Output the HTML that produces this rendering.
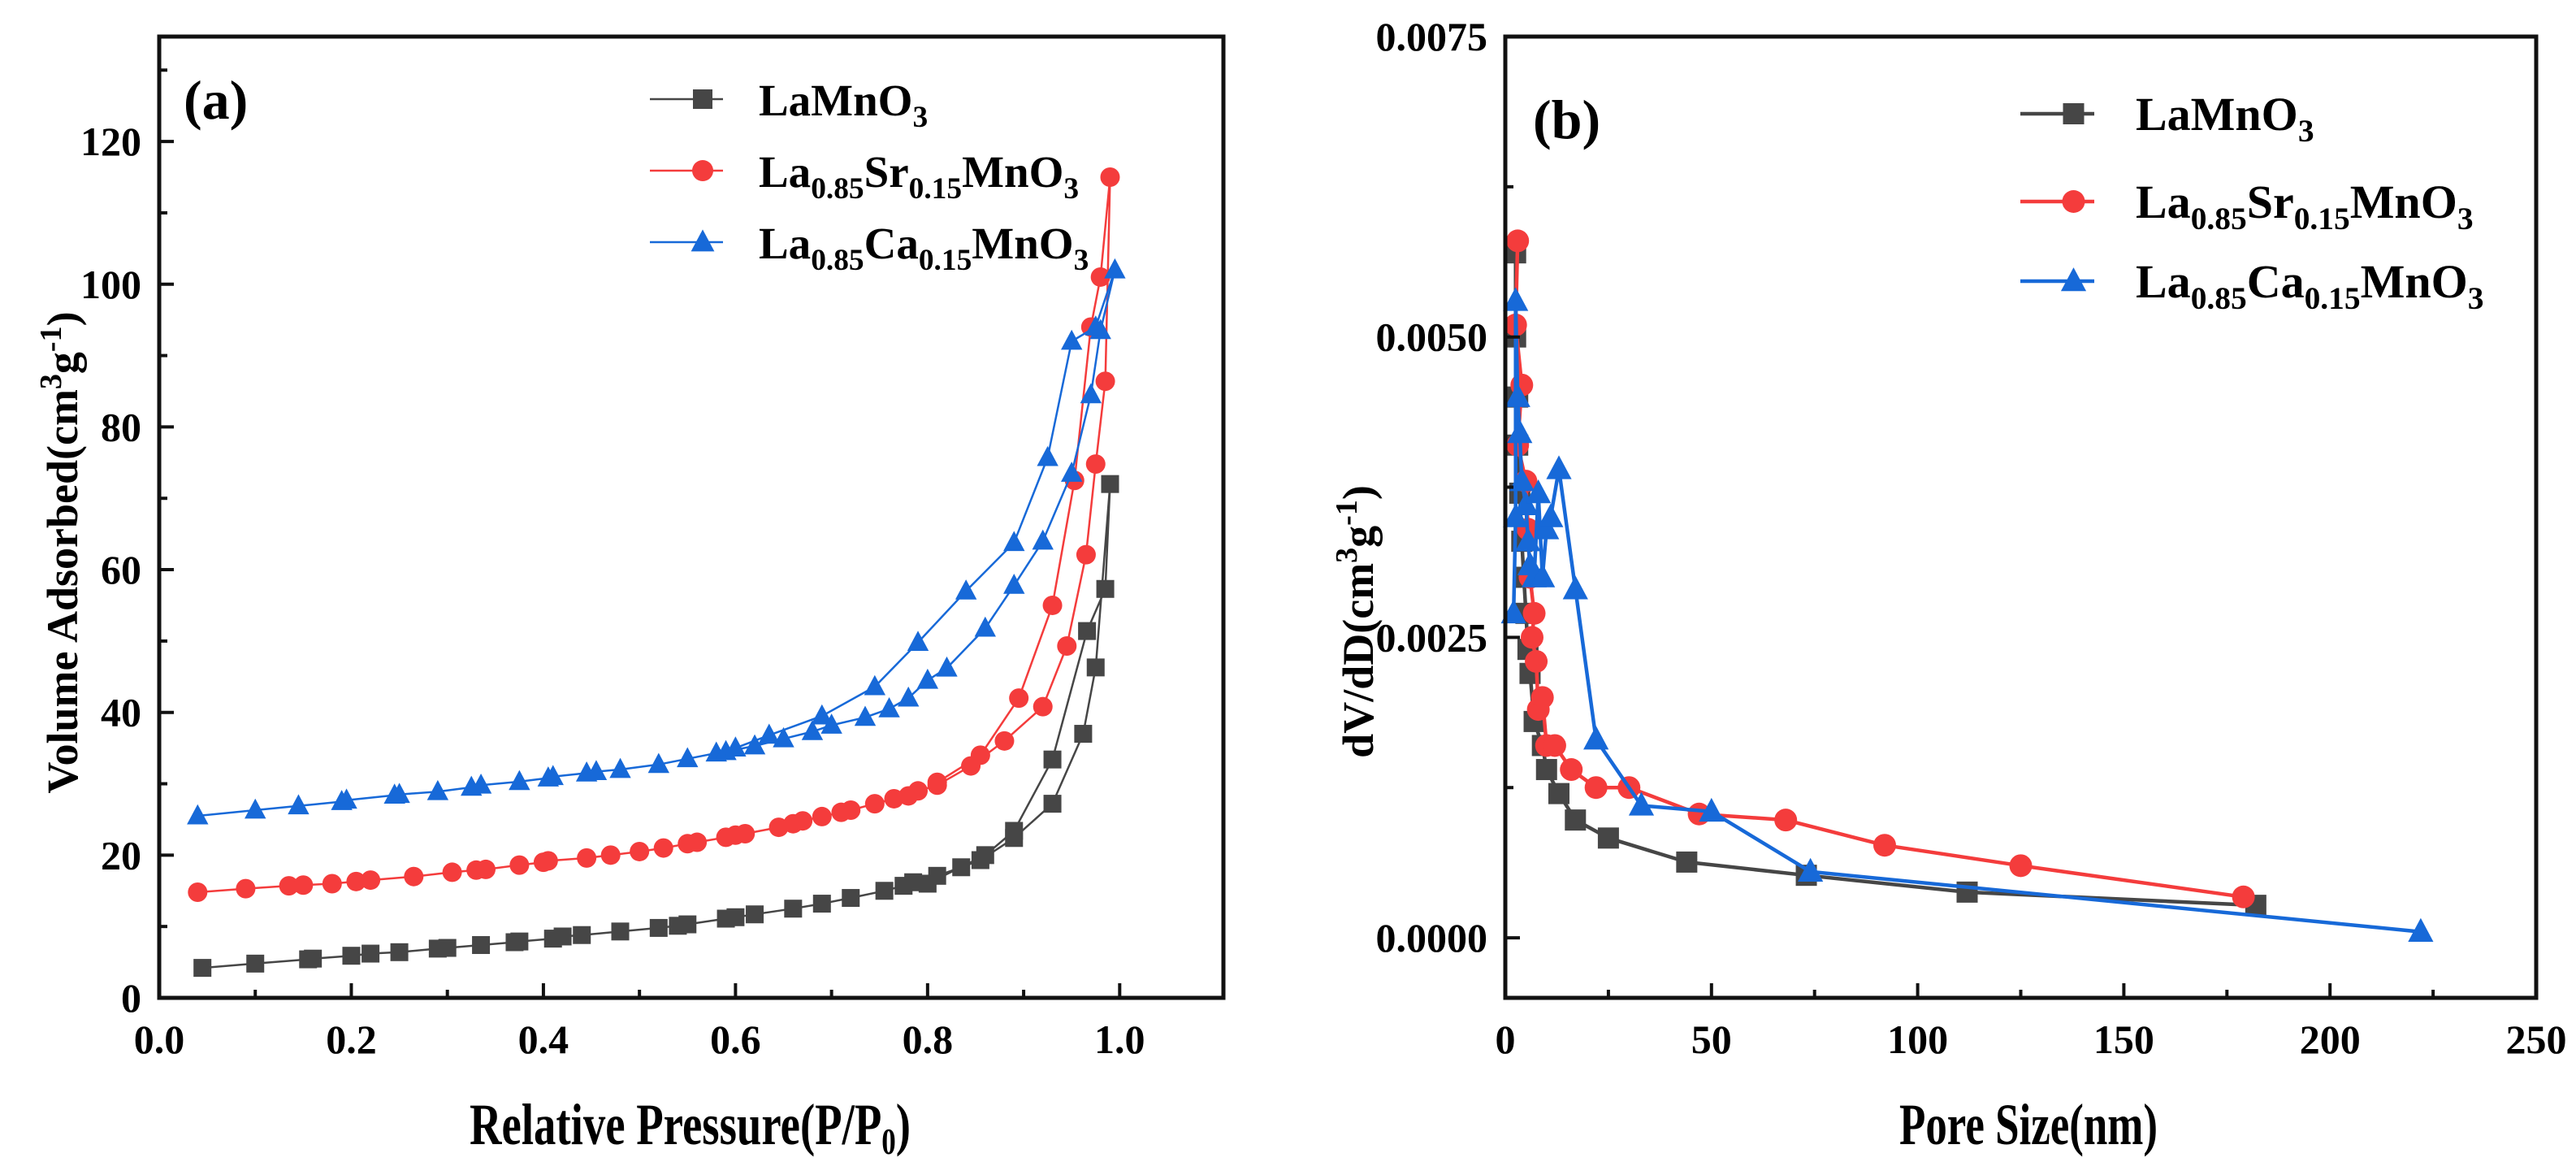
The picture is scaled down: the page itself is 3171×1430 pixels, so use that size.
<!DOCTYPE html>
<html><head><meta charset="utf-8"><style>
html,body{margin:0;padding:0;background:#fff;}
svg{display:block;font-family:"Liberation Serif",serif;font-weight:bold;}
</style></head><body>
<svg id="fig" width="3171" height="1430" viewBox="0 0 3171 1430" xmlns="http://www.w3.org/2000/svg"></svg>
<script>
// ---- Panel (a) data ----
const aLaX = [0.045,0.10,0.155,0.16,0.2,0.22,0.25,0.29,0.30,0.335,0.37,0.375,0.41,0.42,0.44,0.48,0.52,0.54,0.55,0.59,0.60,0.62,0.66,0.69,0.72,0.755,0.775,0.785,0.81,0.835,0.855,0.89,0.93,0.962,0.975,0.99,0.985,0.966,0.93,0.89,0.86,0.8];
const aLaY = [4.2,4.8,5.4,5.5,5.9,6.2,6.4,6.9,7.0,7.4,7.8,7.9,8.3,8.6,8.8,9.3,9.8,10.1,10.3,11.1,11.3,11.7,12.5,13.2,14.0,15.0,15.7,16.2,17.1,18.3,19.3,22.4,27.2,37,46.3,72,57.3,51.4,33.4,23.4,20,16];
const aSrX = [0.04,0.09,0.135,0.15,0.18,0.205,0.22,0.265,0.305,0.33,0.34,0.375,0.4,0.405,0.445,0.47,0.5,0.525,0.55,0.56,0.59,0.6,0.61,0.645,0.66,0.67,0.69,0.71,0.72,0.745,0.765,0.78,0.79,0.81,0.845,0.88,0.92,0.945,0.965,0.975,0.985,0.99,0.98,0.97,0.953,0.93,0.895,0.855,0.81];
const aSrY = [14.8,15.3,15.7,15.8,16.0,16.3,16.5,17.0,17.6,17.9,18.0,18.6,19.0,19.2,19.6,20.0,20.5,21.0,21.6,21.8,22.5,22.8,23.0,23.9,24.4,24.8,25.4,26.0,26.3,27.2,27.9,28.3,29.0,29.8,32.5,36,40.8,49.3,62.1,74.8,86.4,115,101,94,72.5,55,42,34,30.2];
const aCaX = [0.04,0.1,0.145,0.19,0.195,0.245,0.25,0.29,0.325,0.335,0.375,0.405,0.41,0.445,0.455,0.48,0.52,0.55,0.58,0.59,0.62,0.65,0.68,0.7,0.735,0.76,0.78,0.8,0.82,0.86,0.89,0.92,0.95,0.97,0.98,0.995,0.975,0.95,0.925,0.89,0.84,0.79,0.745,0.69,0.635,0.6];
const aCaY = [25.5,26.3,26.9,27.5,27.7,28.4,28.5,28.9,29.5,29.8,30.3,30.8,31.0,31.5,31.7,32.0,32.7,33.5,34.3,34.5,35.3,36.3,37.3,38.2,39.3,40.5,42.0,44.5,46.2,51.8,57.8,64,73.5,84.5,93.5,102,94,92,75.7,63.8,57,49.8,43.6,39.5,36.8,35];
const aXTicks = [0.0,0.2,0.4,0.6,0.8,1.0];
const aXTickLabels = ["0.0","0.2","0.4","0.6","0.8","1.0"];
const aYTicks = [0,20,40,60,80,100,120];
const aYTickLabels = ["0","20","40","60","80","100","120"];
// ---- Panel (b) data ----
const bLaX = [2.5,2.5,3,3,3.5,4,4.5,5,5.5,6,7,9,10,13,17,25,44,73,112,182];
const bLaY = [0.0057,0.0050,0.0045,0.0041,0.0037,0.0033,0.0030,0.0027,0.0024,0.0022,0.0018,0.0016,0.0014,0.0012,0.00098,0.00083,0.00063,0.00052,0.00038,0.00027];
const bSrX = [3,2.5,4,3,5,5.5,6,7,6.5,7.5,8,9,10,12,16,22,30,47,68,92,125,179];
const bSrY = [0.0058,0.0051,0.0046,0.0041,0.0038,0.0034,0.0030,0.0027,0.0025,0.0023,0.0019,0.0020,0.0016,0.0016,0.0014,0.00125,0.00125,0.00103,0.00098,0.00077,0.0006,0.00034];
const bCaX = [2,2.5,2.5,3,3.5,4,5,5.5,6,7,8,9,10,11,13,17,22,33,50,74,222];
const bCaY = [0.0027,0.0035,0.0053,0.0045,0.0042,0.0038,0.0036,0.0033,0.0031,0.0030,0.0037,0.0030,0.0034,0.0035,0.0039,0.0029,0.00165,0.0011,0.00105,0.00055,0.00005];
const bXTicks = [0,50,100,150,200,250];
const bXTickLabels = ["0","50","100","150","200","250"];
const bYTicks = [0,0.0025,0.005,0.0075];
const bYTickLabels = ["0.0000","0.0025","0.0050","0.0075"];

const NS="http://www.w3.org/2000/svg";
const svg=document.getElementById('fig');
function mk(tag,attrs,parent,txt){const e=document.createElementNS(NS,tag);for(const k in attrs)e.setAttribute(k,attrs[k]);if(txt!==undefined)e.textContent=txt;(parent||svg).appendChild(e);return e;}
const GRAY="#464646",RED="#f43c3c",BLUE="#1769d8";

function panel(P){
  const g=mk('g',{});
  
  
  const sx=v=>P.L+(v-P.x0)/(P.x1-P.x0)*(P.R-P.L);
  const sy=v=>P.B-(v-P.y0)/(P.y1-P.y0)*(P.B-P.T);
  P.series.forEach(s=>{
    const sg=mk('g',{},g);
    
    
    const pts=s.x.map((x,i)=>sx(x).toFixed(1)+','+sy(s.y[i]).toFixed(1)).join(' ');
    const ln=mk('polyline',{points:pts,fill:'none',stroke:s.c,'stroke-width':P.lw,'stroke-linejoin':'round'},sg);
    
    
    s.x.forEach((x,i)=>{const m=marker(sg,s.m,sx(x),sy(s.y[i]),s.c,P.ms);
      
      });
  });
  const fr=mk('rect',{x:P.L,y:P.T,width:P.R-P.L,height:P.B-P.T,fill:'none',stroke:'#111','stroke-width':5},g);
  
  
  P.xt.forEach((v,i)=>{const x=sx(v);
    mk('line',{x1:x,y1:P.B,x2:x,y2:P.B-18,stroke:'#111','stroke-width':4},g);
    const t=mk('text',{x:x,y:P.B+68,'text-anchor':'middle','font-size':50},g,P.xl[i]);
    
    
    if(i<P.xt.length-1){const xm=sx((v+P.xt[i+1])/2);mk('line',{x1:xm,y1:P.B,x2:xm,y2:P.B-10,stroke:'#111','stroke-width':4},g);}
  });
  P.yt.forEach((v,i)=>{const y=sy(v);
    mk('line',{x1:P.L,y1:y,x2:P.L+18,y2:y,stroke:'#111','stroke-width':4},g);
    const t=mk('text',{x:P.L-22,y:y+17,'text-anchor':'end','font-size':50},g,P.yl[i]);
    
    
    const ym=sy(v+(P.yt[1]-P.yt[0])/2);
    if(ym>P.T+2) mk('line',{x1:P.L,y1:ym,x2:P.L+10,y2:ym,stroke:'#111','stroke-width':4},g);
    const ym2=sy(v-(P.yt[1]-P.yt[0])/2);
    if(i===0&&ym2<P.B-2) mk('line',{x1:P.L,y1:ym2,x2:P.L+10,y2:ym2,stroke:'#111','stroke-width':4},g);
  });
  return {g,sx,sy};
}
function marker(parent,type,x,y,c,s){
  if(type==='sq') return mk('rect',{x:x-s/2,y:y-s/2,width:s,height:s,fill:c},parent);
  if(type==='ci') return mk('circle',{cx:x,cy:y,r:s/2+1,fill:c},parent);
  const h=s*1.05;return mk('polygon',{points:`${x},${y-h*0.62} ${x-s*0.6},${y+h*0.45} ${x+s*0.6},${y+h*0.45}`,fill:c},parent);
}
function legend(items,lx1,lx2,tx,ys,fs,lw,ms){
  const lg=mk('g',{});
  
  
  items.forEach((it,i)=>{const y=ys[i];
    const e=mk('g',{},lg);
    
    
    mk('line',{x1:lx1,y1:y,x2:lx2,y2:y,stroke:it.c,'stroke-width':lw},e);
    marker(e,it.m,(lx1+lx2)/2+20,y,it.c,ms);
    const t=mk('text',{x:tx,y:y+20,'font-size':fs},e);
    it.parts.forEach(p=>{
      if(p[1]) mk('tspan',{'font-size':fs*0.68,y:y+34},t,p[0]);
      else mk('tspan',{y:y+20},t,p[0]);
    });
  });
}
const legA=[
 {c:GRAY,m:'sq',parts:[['LaMnO',0],['3',1]]},
 {c:RED,m:'ci',parts:[['La',0],['0.85',1],['Sr',0],['0.15',1],['MnO',0],['3',1]]},
 {c:BLUE,m:'tr',parts:[['La',0],['0.85',1],['Ca',0],['0.15',1],['MnO',0],['3',1]]}
];
panel({name:'panel-a',L:196,R:1506,T:45,B:1228,x0:0,x1:1.108,y0:0,y1:134.7,lw:2.5,ms:22,
  xt:aXTicks,xl:aXTickLabels,yt:aYTicks,yl:aYTickLabels,
  series:[{name:'series-lamno3',x:aLaX,y:aLaY,c:GRAY,m:'sq'},{name:'series-la-sr',x:aSrX,y:aSrY,c:RED,m:'ci'},{name:'series-la-ca',x:aCaX,y:aCaY,c:BLUE,m:'tr'}]});
legend(legA,800,890,934,[122,210,298],55,2.5,24);
let t=mk('text',{x:226,y:146,'font-size':68},svg,'(a)');

t=mk('text',{x:578,y:1408,'font-size':72,textLength:543,lengthAdjust:'spacingAndGlyphs'},svg);

mk('tspan',{},t,'Relative Pressure(P/P');mk('tspan',{'font-size':46,dy:12},t,'0');mk('tspan',{dy:-12},t,')');
t=mk('text',{x:0,y:0,'text-anchor':'middle','font-size':54,transform:'translate(95,680) rotate(-90)'},svg);

mk('tspan',{},t,'Volume Adsorbed(cm');mk('tspan',{'font-size':38,dy:-20},t,'3');mk('tspan',{dy:20},t,'g');mk('tspan',{'font-size':38,dy:-20},t,'-1');mk('tspan',{dy:20},t,')');
panel({name:'panel-b',L:1853,R:3122,T:45,B:1228,x0:0,x1:250,y0:-0.0005,y1:0.0075,lw:4.5,ms:26,
  xt:bXTicks,xl:bXTickLabels,yt:bYTicks,yl:bYTickLabels,
  series:[{name:'series-lamno3-b',x:bLaX,y:bLaY,c:GRAY,m:'sq'},{name:'series-la-sr-b',x:bSrX,y:bSrY,c:RED,m:'ci'},{name:'series-la-ca-b',x:bCaX,y:bCaY,c:BLUE,m:'tr'}]});
legend(legA,2487,2578,2629,[140,248,346],58,4.5,26);
t=mk('text',{x:1887,y:170,'font-size':68},svg,'(b)');

t=mk('text',{x:2338,y:1408,'font-size':72,textLength:318,lengthAdjust:'spacingAndGlyphs'},svg,'Pore Size(nm)');

t=mk('text',{x:0,y:0,'text-anchor':'middle','font-size':54,transform:'translate(1690,765) rotate(-90)'},svg);

mk('tspan',{},t,'dV/dD(cm');mk('tspan',{'font-size':38,dy:-20},t,'3');mk('tspan',{dy:20},t,'g');mk('tspan',{'font-size':38,dy:-20},t,'-1');mk('tspan',{dy:20},t,')');
</script>
</body></html>
